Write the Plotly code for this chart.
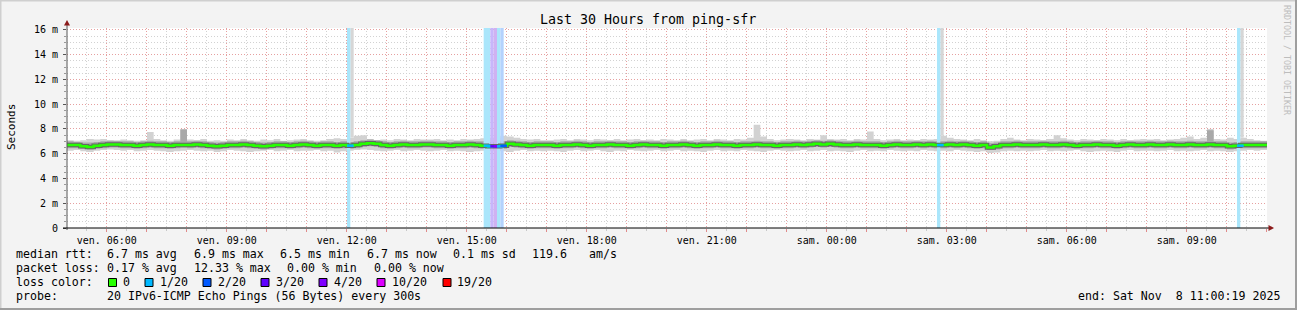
import plotly.graph_objects as go
import pandas as pd

# ---------------- data ----------------
START = "2025-11-07 05:00:19"
END = "2025-11-08 11:00:19"
STEP_MIN = 10          # smoke / median resolution (minutes)
PING_MIN = 5           # probe interval (minutes)

# median rtt (ms), one value per 10 minutes
median_ms = [
    6.7, 6.7, 6.6, 6.55, 6.65, 6.7, 6.75, 6.75, 6.7, 6.7, 6.65, 6.7, 6.75, 6.7, 6.7, 6.65, 6.7, 6.7,
    6.7, 6.75, 6.7, 6.65, 6.6, 6.65, 6.7, 6.7, 6.75, 6.7, 6.65, 6.6, 6.65, 6.7, 6.7, 6.65, 6.7, 6.75,
    6.7, 6.65, 6.7, 6.7, 6.65, 6.7, 6.65, 6.7, 6.8, 6.85, 6.8, 6.7, 6.65, 6.7, 6.75, 6.7, 6.7, 6.75,
    6.75, 6.7, 6.7, 6.65, 6.7, 6.7, 6.75, 6.7, 6.65, 6.6, 6.6, 6.65, 6.8, 6.75, 6.7, 6.65, 6.7, 6.7,
    6.7, 6.65, 6.7, 6.7, 6.75, 6.7, 6.65, 6.7, 6.7, 6.75, 6.7, 6.7, 6.65, 6.7, 6.75, 6.7, 6.7, 6.65,
    6.7, 6.7, 6.75, 6.7, 6.65, 6.7, 6.7, 6.75, 6.7, 6.7, 6.65, 6.7, 6.7, 6.75, 6.7, 6.7, 6.65, 6.7,
    6.7, 6.75, 6.7, 6.75, 6.8, 6.75, 6.8, 6.75, 6.7, 6.7, 6.75, 6.7, 6.7, 6.7, 6.65, 6.7, 6.75, 6.7,
    6.7, 6.75, 6.7, 6.75, 6.7, 6.7, 6.75, 6.7, 6.75, 6.7, 6.65, 6.7, 6.5, 6.6, 6.7, 6.7, 6.75, 6.7,
    6.7, 6.7, 6.75, 6.7, 6.7, 6.75, 6.7, 6.65, 6.7, 6.7, 6.75, 6.7, 6.7, 6.65, 6.7, 6.75, 6.7, 6.7,
    6.75, 6.7, 6.7, 6.75, 6.7, 6.7, 6.75, 6.7, 6.7, 6.75, 6.7, 6.7, 6.6, 6.65, 6.7, 6.7, 6.7, 6.7,
]

# fastest ping of each step (ms)
min_ms = [
    6.25, 6.3, 6.2, 6.15, 6.25, 6.3, 6.35, 6.3, 6.25, 6.3, 6.2, 6.25, 6.3, 6.25, 6.2, 6.15, 6.2, 6.25,
    6.3, 6.25, 6.2, 6.25, 6.15, 6.2, 6.3, 6.25, 6.2, 6.15, 6.2, 6.25, 6.3, 6.2, 6.25, 6.3, 6.2, 6.25,
    6.25, 6.3, 6.2, 6.25, 6.1, 6.2, 6.25, 6.3, 6.35, 6.3, 6.25, 6.2, 6.25, 6.3, 6.2, 6.25, 6.3, 6.25,
    6.2, 6.25, 6.3, 6.2, 6.25, 6.2, 6.15, 6.2, 6.25, 6.2, 6.25, 6.2, 6.15, 6.25, 6.3, 6.2, 6.25, 6.2,
    6.25, 6.2, 6.15, 6.25, 6.3, 6.2, 6.25, 6.3, 6.2, 6.15, 6.25, 6.2, 6.3, 6.25, 6.2, 6.25, 6.3, 6.2,
    6.25, 6.3, 6.2, 6.25, 6.2, 6.15, 6.25, 6.3, 6.2, 6.25, 6.2, 6.3, 6.25, 6.2, 6.15, 6.25, 6.3, 6.25,
    6.2, 6.25, 6.3, 6.2, 6.25, 6.3, 6.2, 6.25, 6.2, 6.15, 6.25, 6.3, 6.2, 6.25, 6.2, 6.3, 6.25, 6.2,
    6.25, 6.2, 6.3, 6.25, 6.2, 6.25, 6.2, 6.3, 6.25, 6.2, 6.15, 6.2, 6.05, 6.1, 6.2, 6.25, 6.2, 6.25,
    6.2, 6.25, 6.3, 6.2, 6.25, 6.2, 6.25, 6.3, 6.2, 6.15, 6.2, 6.25, 6.2, 6.15, 6.25, 6.3, 6.2, 6.25,
    6.25, 6.2, 6.25, 6.3, 6.2, 6.25, 6.2, 6.25, 6.3, 6.2, 6.25, 6.2, 6.15, 6.2, 6.25, 6.3, 6.25, 6.3,
]

# inner smoke (bulk of the pings), low and high edge (ms)
inner_lo_ms = [
    6.45, 6.45, 6.4, 6.35, 6.4, 6.45, 6.5, 6.5, 6.45, 6.45, 6.4, 6.45, 6.5, 6.45, 6.45, 6.4, 6.45, 6.5,
    6.45, 6.5, 6.45, 6.4, 6.35, 6.4, 6.45, 6.45, 6.5, 6.45, 6.4, 6.35, 6.4, 6.45, 6.45, 6.4, 6.45, 6.5,
    6.45, 6.4, 6.45, 6.45, 6.4, 6.45, 6.4, 6.45, 6.55, 6.6, 6.55, 6.45, 6.4, 6.45, 6.5, 6.45, 6.45, 6.5,
    6.5, 6.45, 6.45, 6.4, 6.45, 6.45, 6.5, 6.45, 6.4, 6.35, 6.35, 6.4, 6.55, 6.5, 6.45, 6.4, 6.45, 6.45,
    6.45, 6.4, 6.45, 6.45, 6.5, 6.45, 6.4, 6.45, 6.45, 6.5, 6.45, 6.45, 6.4, 6.45, 6.5, 6.45, 6.45, 6.4,
    6.45, 6.45, 6.5, 6.45, 6.4, 6.45, 6.45, 6.5, 6.45, 6.45, 6.4, 6.45, 6.45, 6.5, 6.45, 6.45, 6.4, 6.45,
    6.45, 6.5, 6.45, 6.5, 6.55, 6.5, 6.55, 6.5, 6.45, 6.45, 6.5, 6.45, 6.45, 6.45, 6.4, 6.45, 6.5, 6.45,
    6.45, 6.5, 6.45, 6.5, 6.45, 6.45, 6.5, 6.45, 6.5, 6.45, 6.4, 6.45, 6.3, 6.35, 6.45, 6.45, 6.5, 6.45,
    6.45, 6.45, 6.5, 6.45, 6.45, 6.5, 6.45, 6.4, 6.45, 6.45, 6.5, 6.45, 6.45, 6.4, 6.45, 6.5, 6.45, 6.45,
    6.5, 6.45, 6.45, 6.5, 6.45, 6.45, 6.5, 6.45, 6.45, 6.5, 6.45, 6.45, 6.35, 6.4, 6.45, 6.45, 6.45, 6.45,
]
inner_hi_ms = [
    7.0, 6.95, 6.9, 6.9, 6.95, 7.0, 7.05, 7.05, 7.0, 7.0, 6.95, 7.0, 7.05, 7.0, 7.0, 6.95, 7.0, 7.95,
    7.0, 7.05, 7.0, 6.95, 6.9, 6.95, 7.0, 7.0, 7.05, 7.0, 6.95, 6.9, 6.95, 7.0, 7.0, 6.95, 7.0, 7.05,
    7.0, 6.95, 7.0, 7.0, 6.95, 7.0, 6.95, 7.0, 7.1, 7.15, 7.1, 7.0, 6.95, 7.0, 7.05, 7.0, 7.0, 7.05,
    7.05, 7.0, 7.0, 6.95, 7.0, 7.0, 7.05, 7.0, 7.0, 6.95, 6.95, 7.0, 7.1, 7.05, 7.0, 6.95, 7.0, 7.0,
    7.0, 6.95, 7.0, 7.0, 7.05, 7.0, 6.95, 7.0, 7.0, 7.05, 7.0, 7.0, 6.95, 7.0, 7.05, 7.0, 7.0, 6.95,
    7.0, 7.0, 7.05, 7.0, 6.95, 7.0, 7.0, 7.05, 7.0, 7.0, 6.95, 7.0, 7.0, 7.05, 7.0, 7.0, 6.95, 7.0,
    7.0, 7.05, 7.0, 7.05, 7.1, 7.05, 7.1, 7.05, 7.0, 7.0, 7.05, 7.0, 7.0, 7.0, 6.95, 7.0, 7.05, 7.0,
    7.0, 7.05, 7.0, 7.05, 7.0, 7.0, 7.05, 7.0, 7.05, 7.0, 6.95, 7.0, 6.85, 6.9, 7.0, 7.0, 7.05, 7.0,
    7.0, 7.0, 7.05, 7.0, 7.0, 7.05, 7.0, 6.95, 7.0, 7.0, 7.05, 7.0, 7.0, 6.95, 7.0, 7.05, 7.0, 7.0,
    7.05, 7.0, 7.0, 7.05, 7.0, 7.0, 7.05, 7.0, 7.0, 7.9, 7.0, 7.0, 6.9, 6.95, 7.0, 7.0, 7.0, 7.0,
]

# slowest ping of each step (ms)
max_ms = [
    7.1, 7.05, 7.1, 7.2, 7.15, 7.2, 7.1, 7.05, 7.15, 7.1, 7.05, 7.1, 7.75, 7.2, 7.1, 7.05, 7.15, 8.0,
    7.15, 7.1, 7.2, 7.05, 7.1, 7.05, 7.15, 7.1, 7.2, 7.1, 7.05, 7.15, 7.1, 7.2, 7.05, 7.1, 7.15, 7.2,
    7.1, 7.05, 7.1, 7.2, 7.25, 7.2, 7.3, 7.45, 7.5, 7.2, 7.1, 7.15, 7.1, 7.2, 7.15, 7.1, 7.2, 7.15,
    7.15, 7.2, 7.1, 7.15, 7.1, 7.2, 7.15, 7.2, 7.25, 7.3, 7.3, 7.45, 7.4, 7.3, 7.2, 7.15, 7.2, 7.1,
    7.1, 7.15, 7.2, 7.1, 7.2, 7.15, 7.1, 7.2, 7.15, 7.1, 7.2, 7.1, 7.15, 7.2, 7.1, 7.15, 7.1, 7.2,
    7.15, 7.1, 7.2, 7.1, 7.15, 7.2, 7.1, 7.2, 7.15, 7.1, 7.2, 7.15, 7.3, 8.35, 7.4, 7.2, 7.1, 7.15,
    7.2, 7.15, 7.1, 7.2, 7.15, 7.5, 7.2, 7.15, 7.2, 7.1, 7.2, 7.15, 7.8, 7.2, 7.1, 7.15, 7.2, 7.1,
    7.15, 7.1, 7.2, 7.15, 7.2, 7.45, 7.3, 7.2, 7.15, 7.1, 7.2, 7.1, 7.0, 7.05, 7.2, 7.3, 7.15, 7.1,
    7.2, 7.15, 7.1, 7.2, 7.5, 7.25, 7.15, 7.1, 7.2, 7.15, 7.1, 7.2, 7.15, 7.1, 7.2, 7.1, 7.15, 7.2,
    7.15, 7.2, 7.1, 7.15, 7.2, 7.3, 7.4, 7.2, 7.3, 8.0, 7.2, 7.15, 7.3, 7.2, 7.3, 7.2, 7.1, 7.05,
]

# probe rounds with a ping above the graph's top
offscale_times = ["2025-11-07 12:05:19", "2025-11-08 02:50:19", "2025-11-08 10:20:19"]

# probe rounds with packet loss (lost pings out of 20)
loss_times = ["2025-11-07 12:00:19", "2025-11-07 15:25:19", "2025-11-07 15:30:19",
              "2025-11-07 15:35:19", "2025-11-07 15:40:19", "2025-11-07 15:45:19",
              "2025-11-07 15:50:19", "2025-11-08 02:45:19", "2025-11-08 10:15:19"]
loss_counts = [1, 1, 1, 3, 4, 1, 2, 1, 1]

loss_levels = [0, 1, 2, 3, 4, 10, 19]
loss_labels = ["0", "1/20", "2/20", "3/20", "4/20", "10/20", "19/20"]
loss_colors = ["#26ff00", "#00b8ff", "#0059ff", "#5e00ff", "#7e00ff", "#dd00ff", "#ff0000"]
loss_band_colors = ["#c8ffc0", "#aae6fb", "#b4d2fd", "#c8b6fb", "#cfb2f2", "#f0b0ff", "#ffb0b0"]

x_tick_times = ["2025-11-07 06:00", "2025-11-07 09:00", "2025-11-07 12:00", "2025-11-07 15:00",
                "2025-11-07 18:00", "2025-11-07 21:00", "2025-11-08 00:00", "2025-11-08 03:00",
                "2025-11-08 06:00", "2025-11-08 09:00"]
x_tick_labels = ["ven. 06:00", "ven. 09:00", "ven. 12:00", "ven. 15:00", "ven. 18:00",
                 "ven. 21:00", "sam. 00:00", "sam. 03:00", "sam. 06:00", "sam. 09:00"]
y_tick_vals = [0, 2, 4, 6, 8, 10, 12, 14, 16]
y_tick_labels = ["0", "2 m", "4 m", "6 m", "8 m", "10 m", "12 m", "14 m", "16 m"]

Y_MAX = 16.16

# ---------------- layout constants (pixels) ----------------
W, H = 1297, 310
PL, PR, PT, PB = 67, 1267, 28, 228
MONO = "DejaVu Sans Mono"


def px2x(px):
    return (px - PL) / (PR - PL)


def py2y(py):
    return (PB - py) / (PB - PT)


t0 = pd.Timestamp(START)
n = len(median_ms)
step = pd.Timedelta(minutes=STEP_MIN)
ping = pd.Timedelta(minutes=PING_MIN)
xs = [t0 + step * i for i in range(n + 1)]


def ext(a):
    return list(a) + [a[-1]]


def step_index(ts):
    return min(int((pd.Timestamp(ts) - t0) / step), n - 1)


fig = go.Figure()
common = dict(mode="lines", hoverinfo="skip", showlegend=False)

# smoke
fig.add_trace(go.Scatter(x=xs, y=ext(min_ms), line=dict(width=0, shape="hv"), **common))
fig.add_trace(go.Scatter(x=xs, y=ext(max_ms), line=dict(width=0, shape="hv"),
                         fill="tonexty", fillcolor="#d2d2d2", **common))
fig.add_trace(go.Scatter(x=xs, y=ext(inner_lo_ms), line=dict(width=0, shape="hv"), **common))
fig.add_trace(go.Scatter(x=xs, y=ext(inner_hi_ms), line=dict(width=0, shape="hv"),
                         fill="tonexty", fillcolor="#a8a8a8", **common))

# pings above the top of the graph
for ts in offscale_times:
    t = pd.Timestamp(ts)
    base = max_ms[step_index(t)]
    fig.add_trace(go.Scatter(x=[t, t, t + ping, t + ping], y=[base, Y_MAX, Y_MAX, base],
                             fill="toself", fillcolor="#d6d6d6", line=dict(width=0), **common))

# loss bands
for ts, c in zip(loss_times, loss_counts):
    t = pd.Timestamp(ts)
    col = loss_band_colors[loss_levels.index(c)]
    fig.add_trace(go.Scatter(x=[t, t, t + ping, t + ping], y=[0, Y_MAX, Y_MAX, 0],
                             fill="toself", fillcolor=col, line=dict(width=0), **common))

# median line (dark smoke core + green line)
fig.add_trace(go.Scatter(x=xs, y=ext(median_ms), line=dict(width=4.5, shape="hv", color="#666666"), **common))
fig.add_trace(go.Scatter(x=xs, y=ext(median_ms), line=dict(width=2.5, shape="hv", color=loss_colors[0]), **common))

# median coloured by loss
for ts, c in zip(loss_times, loss_counts):
    t = pd.Timestamp(ts)
    v = median_ms[step_index(t)]
    fig.add_trace(go.Scatter(x=[t, t + step], y=[v, v],
                             line=dict(width=2.5, color=loss_colors[loss_levels.index(c)]), **common))

# ---------------- axes ----------------
hour_ticks = pd.date_range("2025-11-07 06:00", "2025-11-08 11:00", freq="1h")
label_map = {pd.Timestamp(t): l for t, l in zip(x_tick_times, x_tick_labels)}
half_ticks = pd.date_range("2025-11-07 05:30", "2025-11-08 10:30", freq="1h")

grid_major = "#e6a0a0"
grid_minor = "#d2d2d2"
dots = "1px,2px"

fig.update_xaxes(
    type="date", range=[START, END], tickmode="array",
    tickvals=list(hour_ticks), ticktext=[label_map.get(t, "") for t in hour_ticks],
    showgrid=True, gridcolor=grid_major, griddash=dots, gridwidth=1,
    ticks="outside", ticklen=3, tickcolor="#e08a8a", tickwidth=1,
    showline=False, zeroline=False,
    tickfont=dict(family=MONO, size=10, color="#000"),
    minor=dict(tickmode="array", tickvals=list(half_ticks), showgrid=True, gridcolor=grid_minor,
               griddash=dots, ticks="outside", ticklen=2, tickcolor="#c8c8c8"),
    fixedrange=True,
)
half_y = [v / 2 for v in range(0, 33) if v % 4 != 0]
fig.update_yaxes(
    range=[0, Y_MAX], tickmode="array", tickvals=y_tick_vals, ticktext=y_tick_labels,
    showgrid=True, gridcolor=grid_major, griddash=dots, gridwidth=1,
    ticks="outside", ticklen=3, tickcolor="#555", tickwidth=1, ticklabelstandoff=3,
    showline=False, zeroline=False,
    tickfont=dict(family=MONO, size=10, color="#000"),
    minor=dict(tickmode="array", tickvals=half_y, showgrid=True, gridcolor=grid_minor,
               griddash=dots, ticks="outside", ticklen=2, tickcolor="#999"),
    fixedrange=True,
)

shapes = []
# axis lines with arrows
shapes.append(dict(type="line", xref="paper", yref="paper", x0=0, x1=0, y0=py2y(PB + 2), y1=py2y(23),
                   line=dict(color="#555", width=1)))
shapes.append(dict(type="line", xref="paper", yref="paper", x0=px2x(63), x1=px2x(1270), y0=0, y1=0,
                   line=dict(color="#000", width=1)))
shapes.append(dict(type="path", xref="paper", yref="paper",
                   path=f"M {px2x(64)} {py2y(25.5)} L {px2x(70)} {py2y(25.5)} L {px2x(67)} {py2y(20)} Z",
                   fillcolor="#8b1a1a", line=dict(width=0)))
shapes.append(dict(type="path", xref="paper", yref="paper",
                   path=f"M {px2x(1268.5)} {py2y(225)} L {px2x(1268.5)} {py2y(231)} L {px2x(1274)} {py2y(228)} Z",
                   fillcolor="#8b1a1a", line=dict(width=0)))
# frame
shapes.append(dict(type="line", xref="paper", yref="paper", x0=px2x(0), x1=px2x(W), y0=py2y(0.5), y1=py2y(0.5),
                   line=dict(color="#cfcfcf", width=2)))
shapes.append(dict(type="line", xref="paper", yref="paper", x0=px2x(0.5), x1=px2x(0.5), y0=py2y(0), y1=py2y(H),
                   line=dict(color="#cfcfcf", width=2)))
shapes.append(dict(type="line", xref="paper", yref="paper", x0=px2x(0), x1=px2x(W), y0=py2y(H - 1), y1=py2y(H - 1),
                   line=dict(color="#9e9e9e", width=2)))
shapes.append(dict(type="line", xref="paper", yref="paper", x0=px2x(W - 1), x1=px2x(W - 1), y0=py2y(0), y1=py2y(H),
                   line=dict(color="#9e9e9e", width=2)))

annotations = []


def txt(text, x, y, size=11.6, xanchor="left", color="#000", angle=0):
    annotations.append(dict(text=text, xref="paper", yref="paper", x=px2x(x), y=py2y(y),
                            xanchor=xanchor, yanchor="middle", showarrow=False, textangle=angle,
                            borderpad=0, font=dict(family=MONO, size=size, color=color)))


txt("Last 30 Hours from ping-sfr", 648, 19, size=13.3, xanchor="center")
txt("Seconds", 11, 127, size=11, xanchor="center", angle=-90)
txt("RRDTOOL / TOBI OETIKER", 1287, 60, size=8.3, xanchor="center", color="#bdbdbd", angle=90)

# legend lines
X0 = 15
line1 = [("median rtt:", X0), ("6.7 ms avg", 106), ("6.9 ms max", 192.5), ("6.5 ms min", 278.5),
         ("6.7 ms now", 365.5), ("0.1 ms sd", 451.5), ("119.6", 530.5), ("am/s", 587.5)]
line2 = [("packet loss:", X0), ("0.17 % avg", 106), ("12.33 % max", 192.5), ("0.00 % min", 286),
         ("0.00 % now", 372.5)]
for s, x in line1:
    txt(s, x, 254)
for s, x in line2:
    txt(s, x, 268)
txt("loss color:", X0, 282)
sq_x = [108.5, 145, 203, 261, 319, 377, 443]
lab_x = [122, 158.5, 216.8, 274.5, 332.8, 390.8, 456.2]
for lab, col, sx, lx in zip(loss_labels, loss_colors, sq_x, lab_x):
    shapes.append(dict(type="rect", xref="paper", yref="paper", x0=px2x(sx), x1=px2x(sx + 8),
                       y0=py2y(286.5), y1=py2y(278.5), fillcolor=col, line=dict(color="#000", width=1)))
    txt(lab, lx, 282)
txt("probe:", X0, 296)
txt("20 IPv6-ICMP Echo Pings (56 Bytes) every 300s", 106, 296)
txt("end: Sat Nov  8 11:00:19 2025", 1281, 296, xanchor="right")

fig.update_layout(
    width=W, height=H, autosize=False,
    margin=dict(l=PL, r=W - PR, t=PT, b=H - PB, pad=0),
    paper_bgcolor="#f3f3f3", plot_bgcolor="#ffffff",
    showlegend=False, shapes=shapes, annotations=annotations,
    font=dict(family=MONO, size=10, color="#000"),
)

fig.write_html("out.html", config={"displayModeBar": False, "staticPlot": True})
